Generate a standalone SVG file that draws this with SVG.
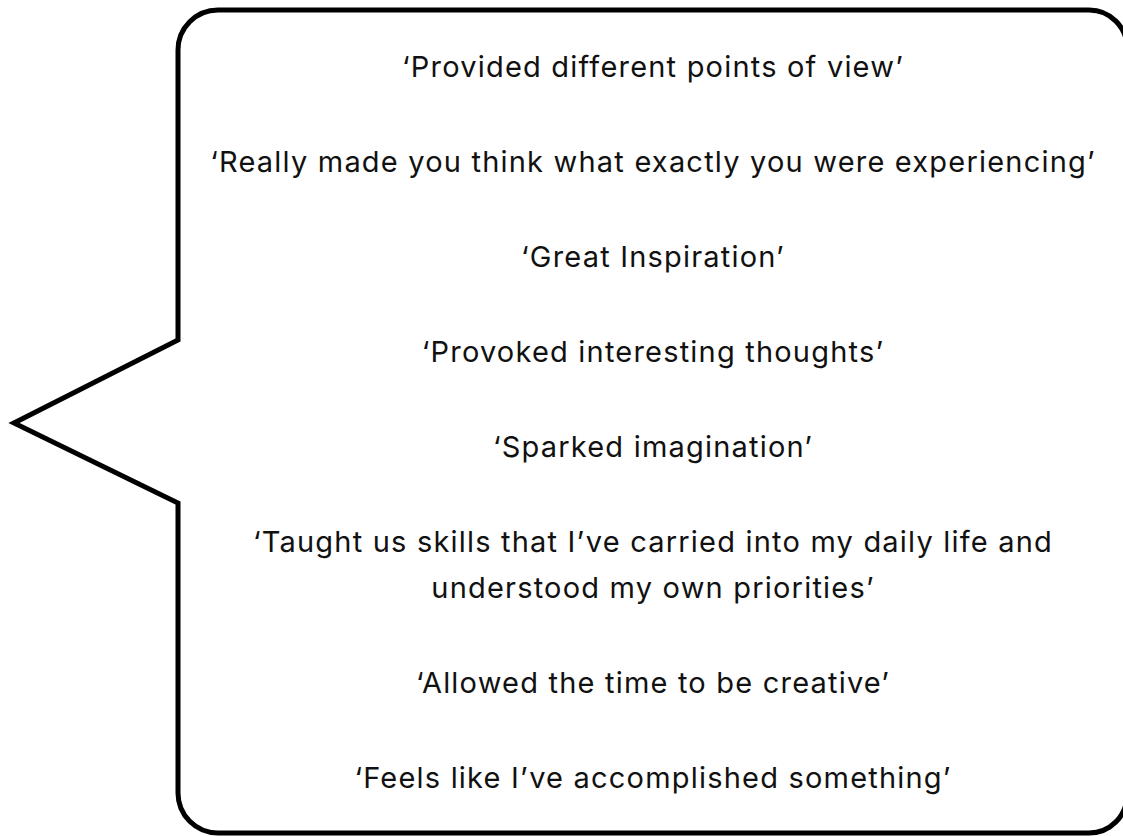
<svg xmlns="http://www.w3.org/2000/svg" width="1123" height="836" viewBox="0 0 1123 836">
<style>
.bubble{fill:#ffffff;stroke:#000000;stroke-width:5;stroke-linejoin:miter}
.q{font-family:Inter,"Noto Sans","Liberation Sans",sans-serif;font-size:29px;letter-spacing:1.2px;fill:#111111;text-anchor:middle}
</style>
<rect x="0" y="0" width="1123" height="836" fill="#ffffff"/>
<g id="bubble">
<path class="bubble" d="M218,10 L1089,10 A38,38 0 0 1 1127,48 L1127,795 A38,38 0 0 1 1089,833 L218,833 A40,40 0 0 1 178,793 L178,503 L14,423 L178,340 L178,50 A40,40 0 0 1 218,10 Z"/>
</g>
<g id="quotes">
<text class="q" x="653" y="77">‘Provided different points of view’</text>
<text class="q" x="653" y="172">‘Really made you think what exactly you were experiencing’</text>
<text class="q" x="653" y="267">‘Great Inspiration’</text>
<text class="q" x="653" y="362">‘Provoked interesting thoughts’</text>
<text class="q" x="653" y="457">‘Sparked imagination’</text>
<text class="q" x="653" y="552">‘Taught us skills that I’ve carried into my daily life and</text>
<text class="q" x="653" y="598">understood my own priorities’</text>
<text class="q" x="653" y="693">‘Allowed the time to be creative’</text>
<text class="q" x="653" y="788">‘Feels like I’ve accomplished something’</text>
</g>
</svg>
